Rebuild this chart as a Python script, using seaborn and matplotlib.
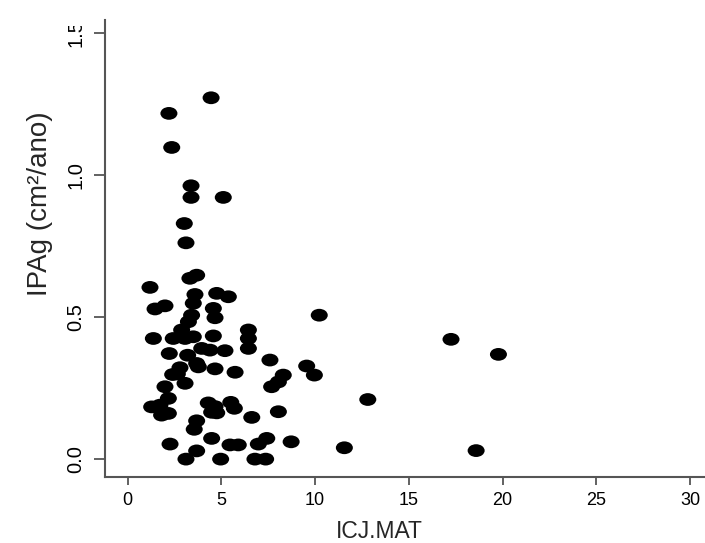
import numpy as np
import pandas as pd
import matplotlib
matplotlib.use("Agg")
import matplotlib.pyplot as plt
from matplotlib.path import Path
from matplotlib.transforms import Affine2D, Bbox, TransformedBbox
import seaborn as sns

# Data
icj_mat = [4.45, 2.20, 2.35, 3.38, 3.38, 5.10, 3.02, 3.11, 3.68, 3.32,
           1.19, 3.59, 4.75, 5.37, 1.46, 1.99, 3.50, 4.57, 4.66, 3.41,
           3.24, 10.22, 2.88, 6.44, 6.44, 6.44, 1.37, 2.43, 3.06, 3.50,
           4.57, 17.25, 3.95, 4.39, 5.19, 2.22, 3.20, 19.78, 7.59, 3.68,
           2.79, 3.77, 4.66, 9.55, 5.73, 2.40, 2.65, 9.96, 8.30, 8.04,
           7.68, 3.06, 1.99, 2.17, 1.28, 1.72, 1.81, 2.17, 4.30, 4.66,
           4.48, 4.75, 5.50, 5.69, 6.62, 8.04, 12.81, 3.68, 3.55, 2.26,
           4.48, 3.68, 5.46, 5.90, 6.97, 7.42, 8.72, 11.56, 18.59, 3.11,
           4.96, 6.79, 7.36]
ipag = [1.273, 1.218, 1.098, 0.963, 0.922, 0.922, 0.830, 0.762, 0.648, 0.637,
        0.605, 0.580, 0.584, 0.572, 0.529, 0.540, 0.549, 0.531, 0.498, 0.507,
        0.484, 0.507, 0.455, 0.455, 0.425, 0.390, 0.425, 0.425, 0.425, 0.431,
        0.434, 0.422, 0.390, 0.384, 0.382, 0.372, 0.366, 0.369, 0.349, 0.337,
        0.322, 0.325, 0.318, 0.328, 0.306, 0.298, 0.300, 0.296, 0.296, 0.272,
        0.255, 0.267, 0.255, 0.214, 0.184, 0.190, 0.155, 0.161, 0.198, 0.185,
        0.165, 0.163, 0.200, 0.179, 0.147, 0.167, 0.210, 0.135, 0.105, 0.053,
        0.073, 0.029, 0.050, 0.050, 0.053, 0.073, 0.061, 0.040, 0.030, 0.0,
        0.0, 0.0, 0.0]
x_ticks = [0, 5, 10, 15, 20, 25, 30]
y_ticks = [0.0, 0.5, 1.0, 1.5]

df = pd.DataFrame({"ICJ.MAT": icj_mat, "IPAg": ipag})

sns.set_style("white")
plt.rcParams["font.family"] = ["Liberation Sans", "DejaVu Sans"]

fig = plt.figure(figsize=(7.05, 5.43), dpi=100)
ax = fig.add_axes([105 / 705, 66 / 543, 600 / 705, 457 / 543])

ellipse = Path.unit_circle().transformed(Affine2D().scale(1.0, 0.75))

sns.scatterplot(data=df, x="ICJ.MAT", y="IPAg", ax=ax, marker=ellipse,
                s=150, color="black", edgecolor="none", linewidth=0)

ax.set_xlim(-1.21, 30.8)
ax.set_ylim(-0.063, 1.547)
ax.set_xticks(x_ticks)
ax.set_xticklabels([str(t) for t in x_ticks])
ax.set_yticks(y_ticks)
ax.set_yticklabels([f"{t:.1f}" for t in y_ticks], rotation=90, va="center")

for side in ["top", "right"]:
    ax.spines[side].set_visible(False)
for side in ["left", "bottom"]:
    ax.spines[side].set_color("#555555")
    ax.spines[side].set_linewidth(1.5)

ax.tick_params(axis="x", direction="out", length=6, width=1.3, color="#555555",
               pad=5, labelsize=13, labelcolor="black", bottom=True)
ax.tick_params(axis="y", direction="out", length=8, width=1.3, color="#555555",
               pad=6, labelsize=14.5, labelcolor="black", left=True)

# the top y tick label is cut at the top of the picture in the reference
clip = TransformedBbox(Bbox([[0, 0], [1, 1 - 26 / 543]]), fig.transFigure)
top_label = ax.get_yticklabels()[-1]
top_label.set_clip_on(True)
top_label.set_clip_box(clip)

ax.set_xlabel("ICJ.MAT", fontsize=16.5, va="center")
ax.xaxis.set_label_coords(0.457, -0.12)
ax.set_ylabel("IPAg (cm²/ano)", fontsize=20, va="center")
ax.yaxis.set_label_coords(-0.108, 0.597)

fig.savefig("out.png", dpi=100)
